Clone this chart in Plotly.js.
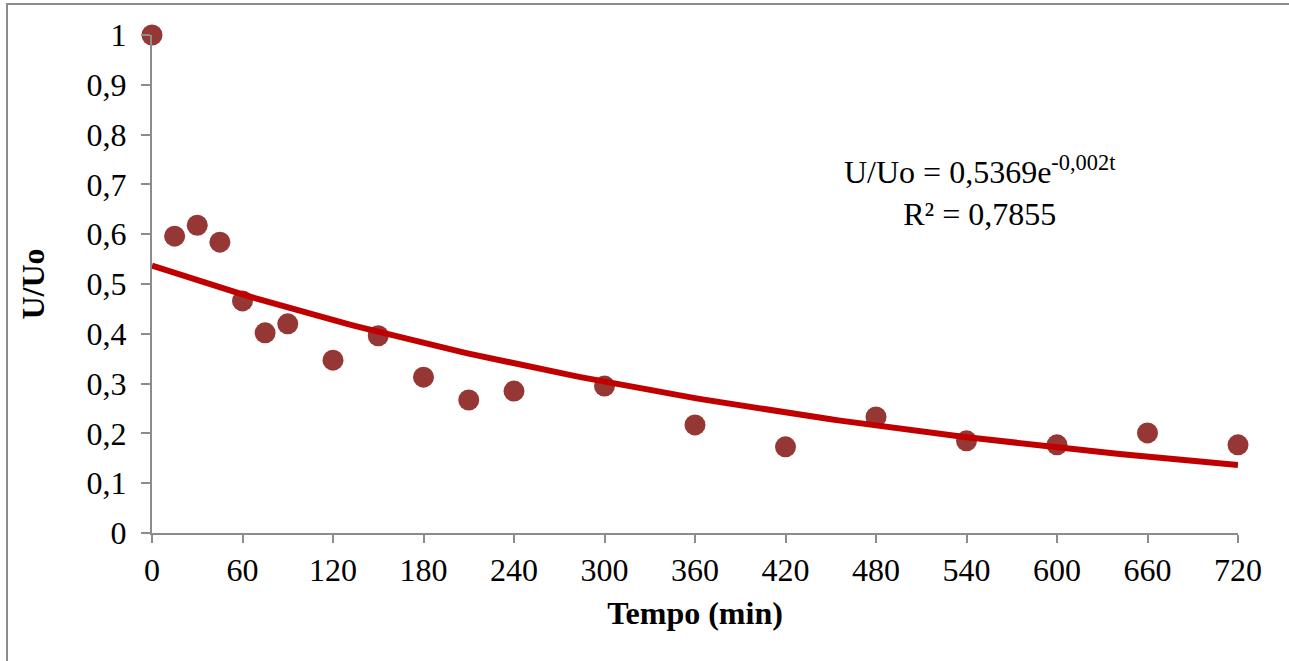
<!DOCTYPE html>
<html>
<head>
<meta charset="utf-8">
<script src="https://cdn.plot.ly/plotly-3.0.1.min.js"></script>
<style>
html,body{margin:0;padding:0;background:#fff;overflow:hidden;}
#frame{position:absolute;left:6px;top:3px;width:1400px;height:800px;border-left:2px solid #8c8c8c;border-top:2px solid #8c8c8c;}
#chart{position:absolute;left:0;top:0;width:1289px;height:661px;}
</style>
</head>
<body>
<div id="frame"></div>
<div id="chart"></div>
<script>
const tempo = [0, 15, 30, 45, 60, 75, 90, 120, 150, 180, 210, 240, 300, 360, 420, 480, 540, 600, 660, 720];
const uUo = [1.0, 0.596, 0.618, 0.584, 0.466, 0.402, 0.420, 0.347, 0.396, 0.313, 0.267, 0.285, 0.295, 0.217, 0.173, 0.233, 0.185, 0.177, 0.201, 0.177];
const fitA = 0.5369;
const fitB = 0.0019;
const xTicks = [0, 60, 120, 180, 240, 300, 360, 420, 480, 540, 600, 660, 720];
const yTicks = [0, 0.1, 0.2, 0.3, 0.4, 0.5, 0.6, 0.7, 0.8, 0.9, 1];
const yTickLabels = ['0', '0,1', '0,2', '0,3', '0,4', '0,5', '0,6', '0,7', '0,8', '0,9', '1'];

const fitT = [];
const fitY = [];
for (let t = 0; t <= 720; t += 5) { fitT.push(t); fitY.push(fitA * Math.exp(-fitB * t)); }

const font = {family: '"Liberation Serif", "Times New Roman", serif', color: '#000'};
const F = (s) => Object.assign({size: s}, font);

const data = [
  {x: tempo, y: uUo, mode: 'markers', marker: {color: '#953735', size: 21}, showlegend: false, cliponaxis: false},
  {x: fitT, y: fitY, mode: 'lines', line: {color: '#c00000', width: 6}, hoverinfo: 'skip', showlegend: false, cliponaxis: false}
];

const layout = {
  width: 1289, height: 661,
  margin: {l: 152, r: 51, t: 35, b: 128},
  paper_bgcolor: 'rgba(0,0,0,0)', plot_bgcolor: 'rgba(0,0,0,0)',
  separators: ',.',
  font: F(32),
  xaxis: {
    range: [0, 720], tickvals: xTicks, ticktext: xTicks.map(String),
    showgrid: false, zeroline: false, showline: true, linecolor: '#8c8c8c', linewidth: 2,
    ticks: 'outside', ticklen: 8, tickwidth: 2, tickcolor: '#8c8c8c',
    tickfont: F(32),
    title: {text: '<b>Tempo (min)</b>', font: F(32), standoff: 14}
  },
  yaxis: {
    range: [0, 1], tickvals: yTicks, ticktext: yTickLabels,
    showgrid: false, zeroline: false, showline: true, linecolor: '#8c8c8c', linewidth: 2,
    ticks: 'outside', ticklen: 9, tickwidth: 2, tickcolor: '#8c8c8c',
    ticklabelstandoff: 8,
    tickfont: F(32),
    title: {text: '<b>U/Uo</b>', font: F(32), standoff: 32}
  },
  annotations: [{
    xref: 'x', yref: 'y', x: 549, y: 0.687, xanchor: 'center', yanchor: 'middle',
    text: 'U/Uo = 0,5369e<sup>-0,002t</sup><br>R² = 0,7855', showarrow: false,
    font: F(32), align: 'center'
  }]
};

Plotly.newPlot('chart', data, layout, {displayModeBar: false, staticPlot: true});
</script>
</body>
</html>
